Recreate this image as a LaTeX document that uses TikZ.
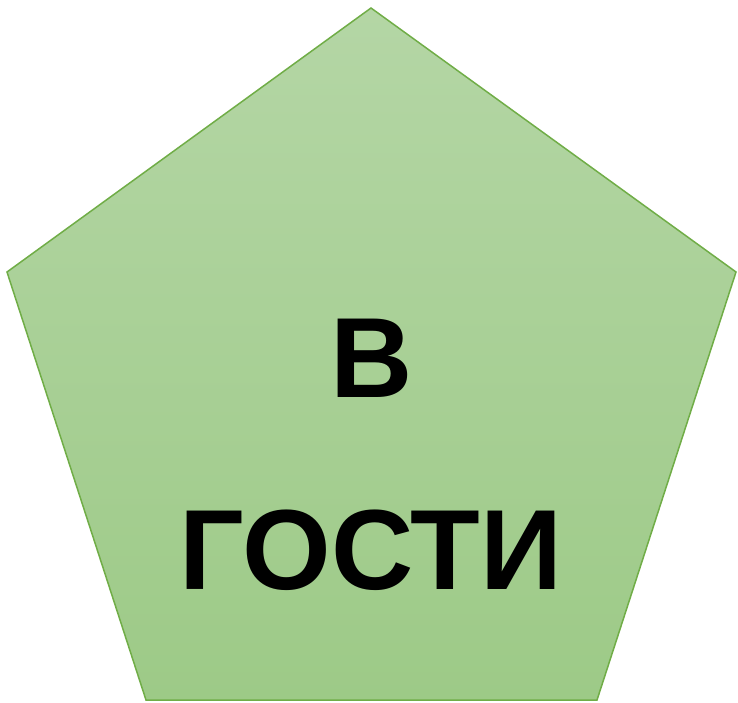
\documentclass[tikz,border=0pt]{standalone}
\usepackage{fontspec}
\setmainfont{Liberation Sans}
\begin{document}
\begin{tikzpicture}[x=1pt,y=1pt,yscale=-1,xscale=1]
                    \useasboundingbox (0,0) rectangle (738,702);
                    %Shape: Regular Polygon [id:pentagon]
                    \draw  [color={rgb, 255:red, 112; green, 173; blue, 71 }  ,line width=1.5 ][top color={rgb, 255:red, 180; green, 214; blue, 165 }  ,bottom color={rgb, 255:red, 157; green, 202; blue, 135 } ] (371,8) -- (736,272) -- (597,700) -- (146,700) -- (7,272) -- cycle ;

                    % Text Node
                    \node (first) at (372,397) [anchor=base][inner sep=0pt]  [font=\fontsize{114}{137}\selectfont\bfseries]  {В};
                    % Text Node
                    \node (second) at (371,589) [anchor=base][inner sep=0pt]  [font=\fontsize{114}{137}\selectfont\bfseries]  {ГОСТИ};
\end{tikzpicture}
\end{document}
